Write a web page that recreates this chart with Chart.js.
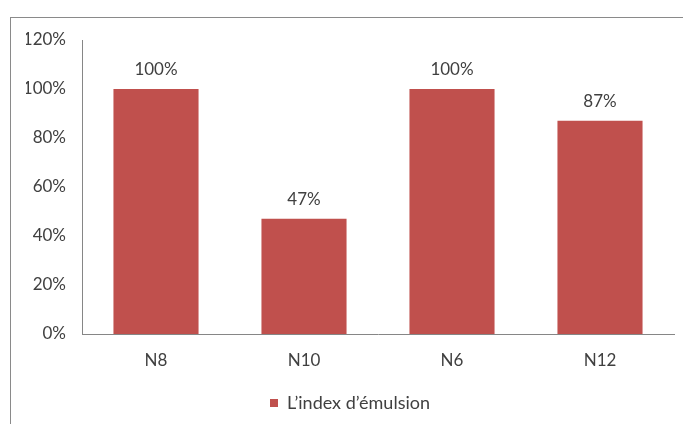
<!DOCTYPE html>
<html>
<head>
<meta charset="utf-8">
<script src="https://cdn.jsdelivr.net/npm/chart.js@4"></script>
<style>
  html, body { margin: 0; padding: 0; background: #fff; }
  #wrap { position: relative; width: 683px; height: 424px; }
  #frame { position: absolute; left: 10px; top: 17px; width: 673px; height: 407px;
           border-top: 1px solid #8a8a8a; border-left: 1px solid #8a8a8a; box-sizing: border-box; }
  canvas { position: absolute; left: 0; top: 0; }
</style>
</head>
<body>
<div id="wrap">
  <div id="frame"></div>
  <canvas id="chart" width="683" height="424"></canvas>
</div>
<script>
const categories = ['N8', 'N10', 'N6', 'N12'];
const emulsionIndex = [1.00, 0.47, 1.00, 0.87];
const valueLabels = ['100%', '47%', '100%', '87%'];
const seriesName = 'L\u2019index d\u2019émulsion';

const textColor = '#404040';
const axisColor = '#868686';
const barColor = '#C0504D';

// draws the value above each bar
const barLabels = {
    id: 'barLabels',
    afterDatasetsDraw(chart) {
        const ctx = chart.ctx;
        const meta = chart.getDatasetMeta(0);
        ctx.save();
        ctx.font = '17px Lato';
        ctx.fillStyle = textColor;
        ctx.textAlign = 'center';
        ctx.textBaseline = 'middle';
        meta.data.forEach((bar, i) => {
            ctx.fillText(valueLabels[i], bar.x, bar.y - 19);
        });
        ctx.restore();
    }
};

const ctx = document.getElementById('chart').getContext('2d');
new Chart(ctx, {
    type: 'bar',
    data: {
        labels: categories,
        datasets: [{
            label: seriesName,
            data: emulsionIndex,
            backgroundColor: barColor,
            borderWidth: 0,
            categoryPercentage: 0.575,
            barPercentage: 1
        }]
    },
    options: {
        responsive: false,
        animation: false,
        layout: { padding: { left: 26, right: 9, top: 40, bottom: 2 } },
        plugins: {
            tooltip: { enabled: false },
            legend: {
                position: 'bottom',
                labels: {
                    boxWidth: 8,
                    boxHeight: 8,
                    padding: 10,
                    color: textColor,
                    font: { family: 'Lato', size: 18 }
                }
            }
        },
        scales: {
            x: {
                grid: { display: false, drawTicks: false },
                border: { color: axisColor },
                ticks: { color: textColor, padding: 16, font: { family: 'Lato', size: 17 } },
                afterFit(scale) { scale.height = 50; }
            },
            y: {
                min: 0,
                max: 1.2,
                grid: { display: false, drawTicks: false },
                border: { color: axisColor },
                ticks: {
                    stepSize: 0.2,
                    padding: 16,
                    color: textColor,
                    font: { family: 'Lato', size: 17 },
                    callback: (v) => Math.round(v * 100) + '%'
                },
                afterFit(scale) { scale.width = 56; }
            }
        }
    },
    plugins: [barLabels]
});
</script>
</body>
</html>
